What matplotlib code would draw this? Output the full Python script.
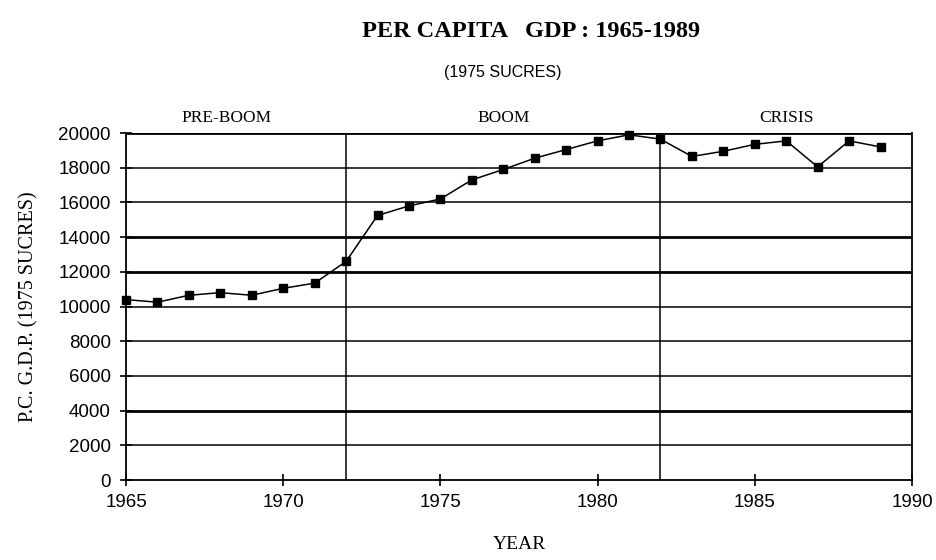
import matplotlib
matplotlib.use("Agg")
import matplotlib.pyplot as plt

# --- data ---
years = list(range(1965, 1990))
gdp = [10400, 10250, 10650, 10800, 10650, 11050, 11350, 12600, 15250, 15800,
       16200, 17300, 17900, 18550, 19050, 19550, 19900, 19650, 18650, 18950,
       19350, 19550, 18050, 19550, 19200]
period_bounds = [1972, 1982]
period_names = ["PRE-BOOM", "BOOM", "CRISIS"]
period_label_x = [1968.2, 1977.0, 1986.0]
yticks = list(range(0, 20001, 2000))
xticks = [1965, 1970, 1975, 1980, 1985, 1990]

SERIF = ["Liberation Serif", "DejaVu Serif"]
SANS = ["Liberation Sans", "DejaVu Sans"]

fig = plt.figure(figsize=(9.37, 5.6), dpi=100)
ax = fig.add_axes([0.1345, 0.1428, 0.8388, 0.6196])

# horizontal grid (some lines heavier, as in the print)
heavy = {20000, 14000, 12000, 4000}
for y in yticks[1:]:
    ax.axhline(y, color="black", lw=2.0 if y in heavy else 1.1, zorder=1)

# period separators
for b in period_bounds:
    ax.axvline(b, color="black", lw=1.1, zorder=1)

ax.plot(years, gdp, color="black", lw=1.1, marker="s", markersize=5.5,
        markerfacecolor="black", zorder=3, clip_on=False)

ax.set_xlim(1965, 1990)
ax.set_ylim(0, 20000)
ax.set_xticks(xticks)
ax.set_yticks(yticks)
ax.tick_params(direction="inout", length=8, width=1.2, colors="black",
               labelsize=13.5)
for lab in ax.get_xticklabels() + ax.get_yticklabels():
    lab.set_family(SANS)
ax.tick_params(axis="y", pad=7)
ax.tick_params(axis="x", pad=6)

ax.spines["top"].set_visible(False)
for side in ["left", "bottom", "right"]:
    ax.spines[side].set_linewidth(1.3)

for name, xp in zip(period_names, period_label_x):
    ax.text(xp, 20400, name, ha="center", va="bottom", fontsize=12.5,
            family=SERIF)

ax.set_ylabel("P.C. G.D.P. (1975 SUCRES)", family=SERIF, fontsize=14.5,
              labelpad=14)
ax.set_xlabel("YEAR", family=SERIF, fontsize=14, labelpad=18)

fig.text(0.567, 0.943, "PER CAPITA   GDP : 1965-1989", ha="center", va="center",
         family=SERIF, fontweight="bold", fontsize=17.5)
fig.text(0.537, 0.870, "(1975 SUCRES)", ha="center", va="center",
         family=SANS, fontsize=11.5)

fig.savefig("out.png", dpi=100)
